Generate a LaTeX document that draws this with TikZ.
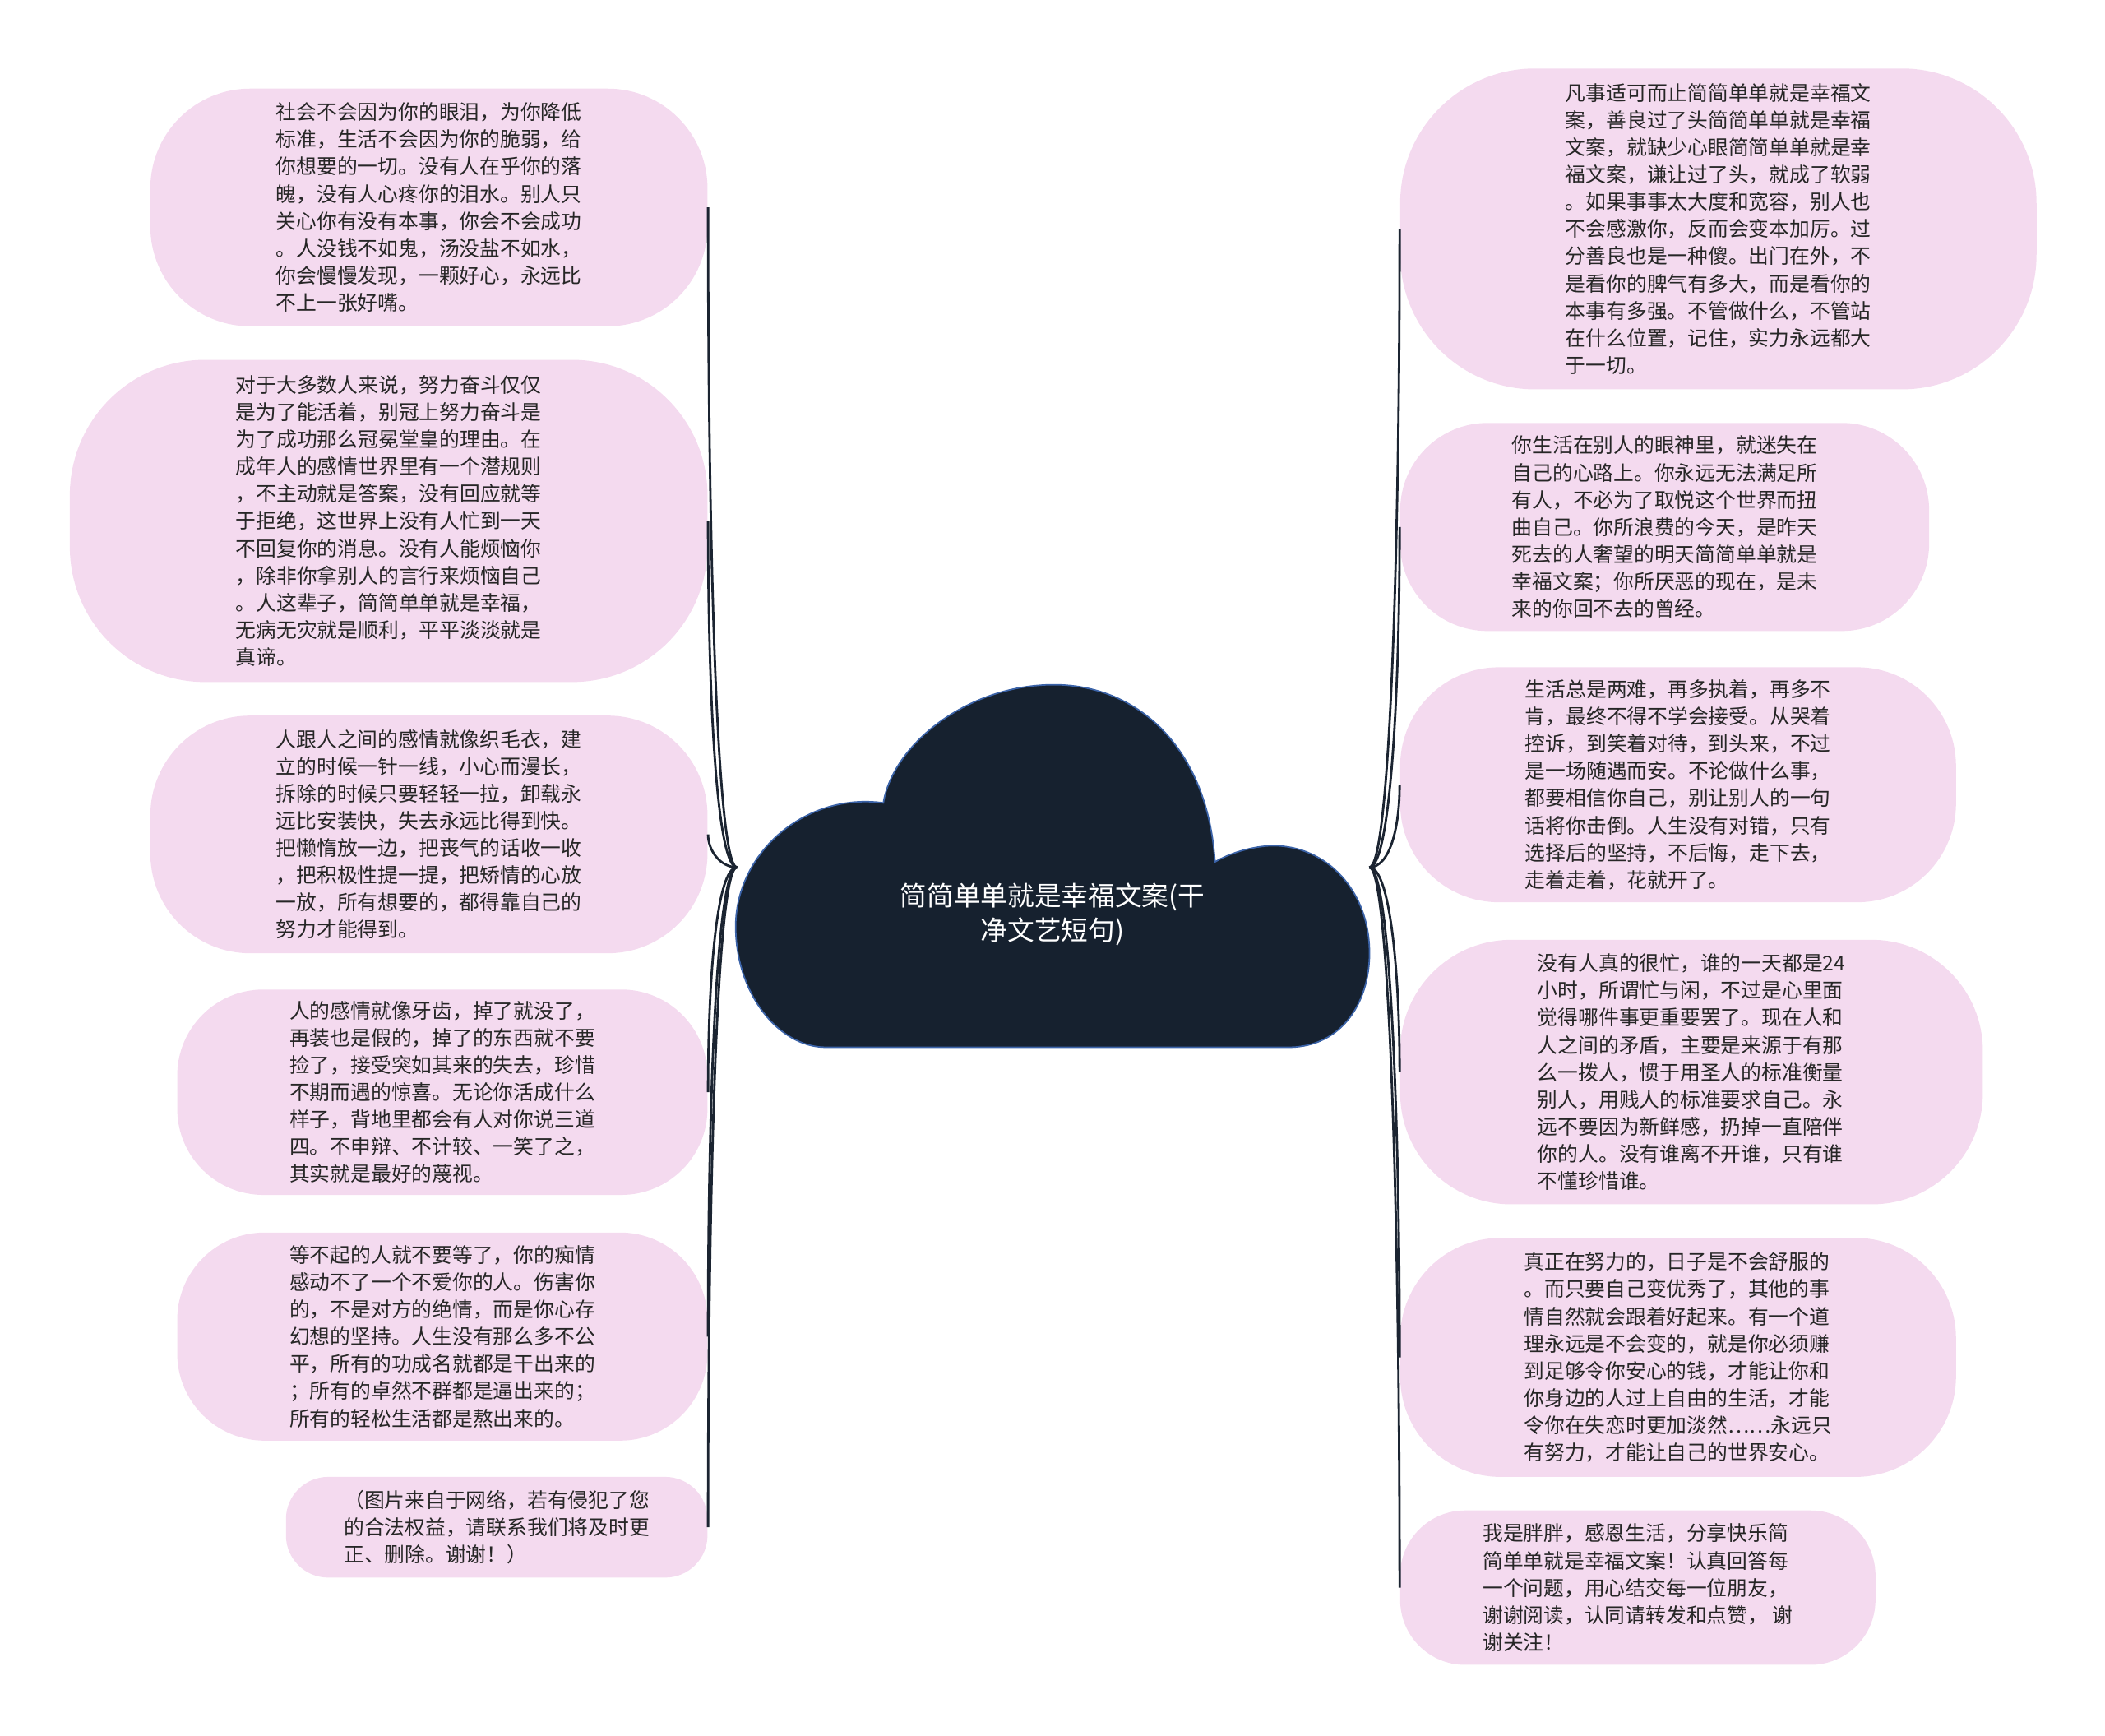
\documentclass[tikz,border=0pt]{standalone}
\usepackage{fontspec}
\setmainfont{Noto Sans CJK SC}
\definecolor{bubblefill}{HTML}{F4DAEF}
\definecolor{cloudfill}{HTML}{16212F}
\definecolor{cloudline}{HTML}{3B63A8}
\definecolor{linkc}{HTML}{1B2431}
\definecolor{txt}{HTML}{262626}

\begin{document}
\begin{tikzpicture}[x=0.016327cm, y=-0.016327cm,
	every node/.style={font=\fontsize{7.05pt}{9.42pt}\selectfont, text=txt},
	bubble/.style 2 args={fill=bubblefill, inner sep=0pt, align=left,
		minimum width=#1*0.016327cm, minimum height=#2*0.016327cm,
		rounded corners=0.42*#2*0.016327cm},
	link/.style={draw=linkc, line width=0.8pt}]
	
	\useasboundingbox (0,0) rectangle (1568,1293);
	
	% Wolke (Mitte)
	\filldraw[fill=cloudfill, draw=cloudline, line width=0.5pt]
		(615,780) -- (960,780)
		.. controls (1000,780) and (1022,745) .. (1020,705)
		.. controls (1018,660) and (985,628) .. (945,630)
		.. controls (930,631) and (915,636) .. (905,642)
		.. controls (900,560) and (850,510) .. (785,510)
		.. controls (720,510) and (665,555) .. (658,598)
		.. controls (600,590) and (548,635) .. (548,690)
		.. controls (548,740) and (580,780) .. (615,780) -- cycle;
	\node[font=\fontsize{9.3pt}{12pt}\selectfont, text=white, align=center] (root) at (784,681)
		{简简单单就是幸福文案(干\\净文艺短句)};
	\coordinate (rootL) at (549,646);
	\coordinate (rootR) at (1020,646);
	
	% linke Seite
	\node[bubble={415}{177}] (b1) at (319.5,154.5) {社会不会因为你的眼泪，为你降低\\标准，生活不会因为你的脆弱，给\\你想要的一切。没有人在乎你的落\\魄，没有人心疼你的泪水。别人只\\关心你有没有本事，你会不会成功\\。人没钱不如鬼，汤没盐不如水，\\你会慢慢发现，一颗好心，永远比\\不上一张好嘴。};
	\node[bubble={475}{240}] (b2) at (289.5,388) {对于大多数人来说，努力奋斗仅仅\\是为了能活着，别冠上努力奋斗是\\为了成功那么冠冕堂皇的理由。在\\成年人的感情世界里有一个潜规则\\，不主动就是答案，没有回应就等\\于拒绝，这世界上没有人忙到一天\\不回复你的消息。没有人能烦恼你\\，除非你拿别人的言行来烦恼自己\\。人这辈子，简简单单就是幸福，\\无病无灾就是顺利，平平淡淡就是\\真谛。};
	\node[bubble={415}{177}] (b3) at (319.5,621.5) {人跟人之间的感情就像织毛衣，建\\立的时候一针一线，小心而漫长，\\拆除的时候只要轻轻一拉，卸载永\\远比安装快，失去永远比得到快。\\把懒惰放一边，把丧气的话收一收\\，把积极性提一提，把矫情的心放\\一放，所有想要的，都得靠自己的\\努力才能得到。};
	\node[bubble={395}{153}] (b4) at (329.5,813.5) {人的感情就像牙齿，掉了就没了，\\再装也是假的，掉了的东西就不要\\捡了，接受突如其来的失去，珍惜\\不期而遇的惊喜。无论你活成什么\\样子，背地里都会有人对你说三道\\四。不申辩、不计较、一笑了之，\\其实就是最好的蔑视。};
	\node[bubble={395}{155}] (b5) at (329.5,995.5) {等不起的人就不要等了，你的痴情\\感动不了一个不爱你的人。伤害你\\的，不是对方的绝情，而是你心存\\幻想的坚持。人生没有那么多不公\\平，所有的功成名就都是干出来的\\；所有的卓然不群都是逼出来的；\\所有的轻松生活都是熬出来的。};
	\node[bubble={314}{75}] (b6) at (370,1137.5) {（图片来自于网络，若有侵犯了您\\的合法权益，请联系我们将及时更\\正、删除。谢谢！）};
	
	% rechte Seite
	\node[bubble={474}{239}] (r1) at (1280,170.5) {凡事适可而止简简单单就是幸福文\\案，善良过了头简简单单就是幸福\\文案，就缺少心眼简简单单就是幸\\福文案，谦让过了头，就成了软弱\\。如果事事太大度和宽容，别人也\\不会感激你，反而会变本加厉。过\\分善良也是一种傻。出门在外，不\\是看你的脾气有多大，而是看你的\\本事有多强。不管做什么，不管站\\在什么位置，记住，实力永远都大\\于一切。};
	\node[bubble={394}{155}] (r2) at (1240,392.5) {你生活在别人的眼神里，就迷失在\\自己的心路上。你永远无法满足所\\有人，不必为了取悦这个世界而扭\\曲自己。你所浪费的今天，是昨天\\死去的人奢望的明天简简单单就是\\幸福文案；你所厌恶的现在，是未\\来的你回不去的曾经。};
	\node[bubble={414}{175}] (r3) at (1250,584.5) {生活总是两难，再多执着，再多不\\肯，最终不得不学会接受。从哭着\\控诉，到笑着对待，到头来，不过\\是一场随遇而安。不论做什么事，\\都要相信你自己，别让别人的一句\\话将你击倒。人生没有对错，只有\\选择后的坚持，不后悔，走下去，\\走着走着，花就开了。};
	\node[bubble={434}{197}] (r4) at (1260,798.5) {没有人真的很忙，谁的一天都是24\\小时，所谓忙与闲，不过是心里面\\觉得哪件事更重要罢了。现在人和\\人之间的矛盾，主要是来源于有那\\么一拨人，惯于用圣人的标准衡量\\别人，用贱人的标准要求自己。永\\远不要因为新鲜感，扔掉一直陪伴\\你的人。没有谁离不开谁，只有谁\\不懂珍惜谁。};
	\node[bubble={414}{178}] (r5) at (1250,1011) {真正在努力的，日子是不会舒服的\\。而只要自己变优秀了，其他的事\\情自然就会跟着好起来。有一个道\\理永远是不会变的，就是你必须赚\\到足够令你安心的钱，才能让你和\\你身边的人过上自由的生活，才能\\令你在失恋时更加淡然……永远只\\有努力，才能让自己的世界安心。};
	\node[bubble={354}{115}] (r6) at (1220,1182.5) {我是胖胖，感恩生活，分享快乐简\\简单单就是幸福文案！认真回答每\\一个问题，用心结交每一位朋友，\\谢谢阅读，认同请转发和点赞， 谢\\谢关注！};
	
	% Verbindungen links
	\draw[link] (rootL) to[out=180, in=-90, out distance=0.25cm, in distance=4cm] (b1.east);
	\draw[link] (rootL) to[out=180, in=-90, out distance=0.25cm, in distance=2.1cm] (b2.east);
	\draw[link] (rootL) to[out=180, in=-90, out distance=0.2cm, in distance=0.2cm] (b3.east);
	\draw[link] (rootL) to[out=180, in=90, out distance=0.25cm, in distance=1.37cm] (b4.east);
	\draw[link] (rootL) to[out=180, in=90, out distance=0.25cm, in distance=2.85cm] (b5.east);
	\draw[link] (rootL) to[out=180, in=90, out distance=0.25cm, in distance=4cm] (b6.east);
	
	% Verbindungen rechts
	\draw[link] (rootR) to[out=0, in=-90, out distance=0.25cm, in distance=3.9cm] (r1.west);
	\draw[link] (rootR) to[out=0, in=-90, out distance=0.25cm, in distance=2.09cm] (r2.west);
	\draw[link] (rootR) to[out=0, in=-90, out distance=0.25cm, in distance=0.52cm] (r3.west);
	\draw[link] (rootR) to[out=0, in=90, out distance=0.25cm, in distance=1.23cm] (r4.west);
	\draw[link] (rootR) to[out=0, in=90, out distance=0.25cm, in distance=2.96cm] (r5.west);
	\draw[link] (rootR) to[out=0, in=90, out distance=0.25cm, in distance=4.36cm] (r6.west);
	
\end{tikzpicture}
\end{document}
